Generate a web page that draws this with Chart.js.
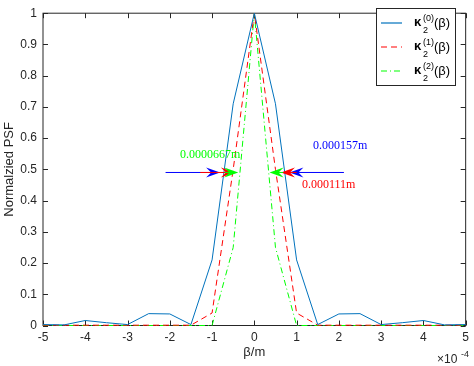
<!DOCTYPE html>
<html>
<head>
<meta charset="utf-8">
<script src="https://cdn.jsdelivr.net/npm/chart.js@4"></script>
<style>
  html, body { margin: 0; padding: 0; background: #fff; }
  #wrap { width: 474px; height: 366px; }
</style>
</head>
<body>
<div id="wrap"><canvas id="psf_chart" width="474" height="366"></canvas></div>
<script>
// beta in units of 1e-4 m
const beta = [-5, -4.5, -4, -3.5, -3, -2.5, -2, -1.5, -1, -0.5, 0, 0.5, 1, 1.5, 2, 2.5, 3, 3.5, 4, 4.5, 5];
const psf_k0 = [0.003, 0.002, 0.016, 0.009, 0.003, 0.038, 0.037, 0.003, 0.21, 0.71, 1, 0.71, 0.21, 0.003, 0.037, 0.038, 0.003, 0.009, 0.016, 0.002, 0.003];
const psf_k1 = [0.001, 0.001, 0.001, 0.001, 0.001, 0.001, 0.001, 0.001, 0.04, 0.50, 1, 0.50, 0.04, 0.001, 0.001, 0.001, 0.001, 0.001, 0.001, 0.001, 0.001];
const psf_k2 = [0, 0, 0, 0, 0, 0, 0, 0, 0, 0.25, 1, 0.25, 0, 0, 0, 0, 0, 0, 0, 0, 0];

const x_ticks = [-5, -4, -3, -2, -1, 0, 1, 2, 3, 4, 5];
const y_ticks = [0, 0.1, 0.2, 0.3, 0.4, 0.5, 0.6, 0.7, 0.8, 0.9, 1];

const series_labels = ['(0)', '(1)', '(2)'];
const series_colors = ['#0072bd', '#ff0000', '#00ff00'];
const series_dashes = [[], [6, 4], [6, 3, 1, 3]];

// FWHM arrows: [from, to] in 1e-4 m, at y = half max
const arrow_y = 0.49;
const fwhm_arrows = [
    [-2.10, -0.81, '#0000ff'], [-1.28, -0.46, '#ff0000'], [-0.70, -0.38, '#00ff00'],
    [2.12, 0.83, '#0000ff'], [1.00, 0.63, '#ff0000'], [0.68, 0.36, '#00ff00']
];
const fwhm_texts = [['0.000157m', '#0000ff', 313, 149], ['0.0000667m', '#00ff00', 180, 158], ['0.000111m', '#ff0000', 302, 188]];

const AXIS_COLOR = '#262626';

function drawArrow(ctx, x0, x1, y, color) {
    const dir = x1 > x0 ? 1 : -1;
    ctx.save();
    ctx.strokeStyle = color;
    ctx.fillStyle = color;
    ctx.lineWidth = 1;
    ctx.beginPath();
    ctx.moveTo(x0, y);
    ctx.lineTo(x1 - dir * 8, y);
    ctx.stroke();
    // vback2 style head
    ctx.beginPath();
    ctx.moveTo(x1, y);
    ctx.lineTo(x1 - dir * 14, y - 5);
    ctx.lineTo(x1 - dir * 9, y);
    ctx.lineTo(x1 - dir * 14, y + 5);
    ctx.closePath();
    ctx.fill();
    ctx.restore();
}

function drawLegend(ctx) {
    ctx.save();
    ctx.fillStyle = '#ffffff';
    ctx.fillRect(377, 8, 79, 77);
    ctx.strokeStyle = AXIS_COLOR;
    ctx.lineWidth = 1;
    ctx.strokeRect(376.5, 8.5, 79, 77);
    for (let i = 0; i < series_labels.length; i++) {
        const cy = 23 + i * 24;
        ctx.beginPath();
        ctx.strokeStyle = series_colors[i];
        ctx.lineWidth = 1.2;
        ctx.setLineDash(series_dashes[i].slice());
        ctx.moveTo(381, cy);
        ctx.lineTo(402, cy);
        ctx.stroke();
        ctx.setLineDash([]);

        ctx.fillStyle = '#000000';
        ctx.font = 'bold 13px "Liberation Sans", Arial, sans-serif';
        ctx.fillText('\u03ba', 414, cy + 3);
        ctx.font = '9px "Liberation Sans", Arial, sans-serif';
        ctx.fillText(series_labels[i], 423, cy - 2);
        ctx.fillText('2', 423, cy + 10);
        ctx.font = '13px "Liberation Sans", Arial, sans-serif';
        ctx.fillText('(\u03b2)', 434, cy + 4);
    }
    ctx.restore();
}

const boxPlugin = {
    id: 'matlabBox',
    beforeDatasetsDraw(chart) {
        const ctx = chart.ctx;
        const a = chart.chartArea;
        const xs = chart.scales.x, ys = chart.scales.y;
        ctx.save();
        ctx.strokeStyle = AXIS_COLOR;
        ctx.lineWidth = 1;
        ctx.strokeRect(a.left, a.top, a.right - a.left, a.bottom - a.top);
        ctx.beginPath();
        x_ticks.forEach(v => {
            const px = Math.round(xs.getPixelForValue(v)) + 0.5;
            ctx.moveTo(px, a.bottom); ctx.lineTo(px, a.bottom - 5);
            ctx.moveTo(px, a.top); ctx.lineTo(px, a.top + 5);
        });
        y_ticks.forEach(v => {
            const py = Math.round(ys.getPixelForValue(v)) + 0.5;
            ctx.moveTo(a.left, py); ctx.lineTo(a.left + 5, py);
            ctx.moveTo(a.right, py); ctx.lineTo(a.right - 5, py);
        });
        ctx.stroke();
        ctx.restore();
    },
    afterDraw(chart) {
        const ctx = chart.ctx;
        const xs = chart.scales.x, ys = chart.scales.y;
        const py = ys.getPixelForValue(arrow_y);

        fwhm_arrows.forEach(([from, to, color]) => {
            drawArrow(ctx, xs.getPixelForValue(from), xs.getPixelForValue(to), py, color);
        });

        ctx.save();
        ctx.font = '12px "Liberation Serif", "Times New Roman", serif';
        fwhm_texts.forEach(([txt, color, x, y]) => {
            ctx.fillStyle = color;
            ctx.fillText(txt, x, y);
        });

        // x10^-4 exponent label
        ctx.fillStyle = AXIS_COLOR;
        ctx.font = '12px "Liberation Sans", Arial, sans-serif';
        ctx.fillText('\u00d710', 437, 363);
        ctx.font = '9px "Liberation Sans", Arial, sans-serif';
        ctx.fillText('-4', 461, 357);
        ctx.restore();

        drawLegend(ctx);
    }
};

Chart.defaults.font.family = '"Liberation Sans", Arial, sans-serif';
Chart.defaults.font.size = 12;
Chart.defaults.color = AXIS_COLOR;

function makeDataset(values, i) {
    return {
        label: series_labels[i],
        data: beta.map((b, k) => ({x: b, y: values[k]})),
        borderColor: series_colors[i],
        backgroundColor: series_colors[i],
        borderWidth: 1,
        borderDash: series_dashes[i],
        pointRadius: 0,
        tension: 0,
        fill: false,
        clip: 4
    };
}

new Chart('psf_chart', {
    type: 'line',
    data: {
        datasets: [
            makeDataset(psf_k0, 0),
            makeDataset(psf_k1, 1),
            makeDataset(psf_k2, 2)
        ]
    },
    options: {
        responsive: false,
        animation: false,
        layout: { padding: { top: 5, right: 4.5, left: 0, bottom: 0 } },
        plugins: { legend: { display: false }, tooltip: { enabled: false } },
        scales: {
            x: {
                type: 'linear',
                min: -5, max: 5,
                afterBuildTicks: s => { s.ticks = x_ticks.map(v => ({value: v})); },
                afterFit: s => { s.height = 40.5; },
                ticks: { padding: 5, maxRotation: 0, callback: v => String(v) },
                grid: { display: false, drawTicks: false },
                border: { display: false },
                title: { display: true, text: '\u03b2/m', font: { size: 13 }, padding: { top: 0, bottom: 6 } }
            },
            y: {
                min: 0, max: 1,
                afterBuildTicks: s => { s.ticks = y_ticks.map(v => ({value: v})); },
                afterFit: s => { s.width = 43; },
                ticks: { padding: 6, callback: v => String(+v.toFixed(1)) },
                grid: { display: false, drawTicks: false },
                border: { display: false },
                title: { display: true, text: 'Normalzied PSF', font: { size: 13 }, padding: { top: 2, bottom: 0 } }
            }
        }
    },
    plugins: [boxPlugin]
});
</script>
</body>
</html>
